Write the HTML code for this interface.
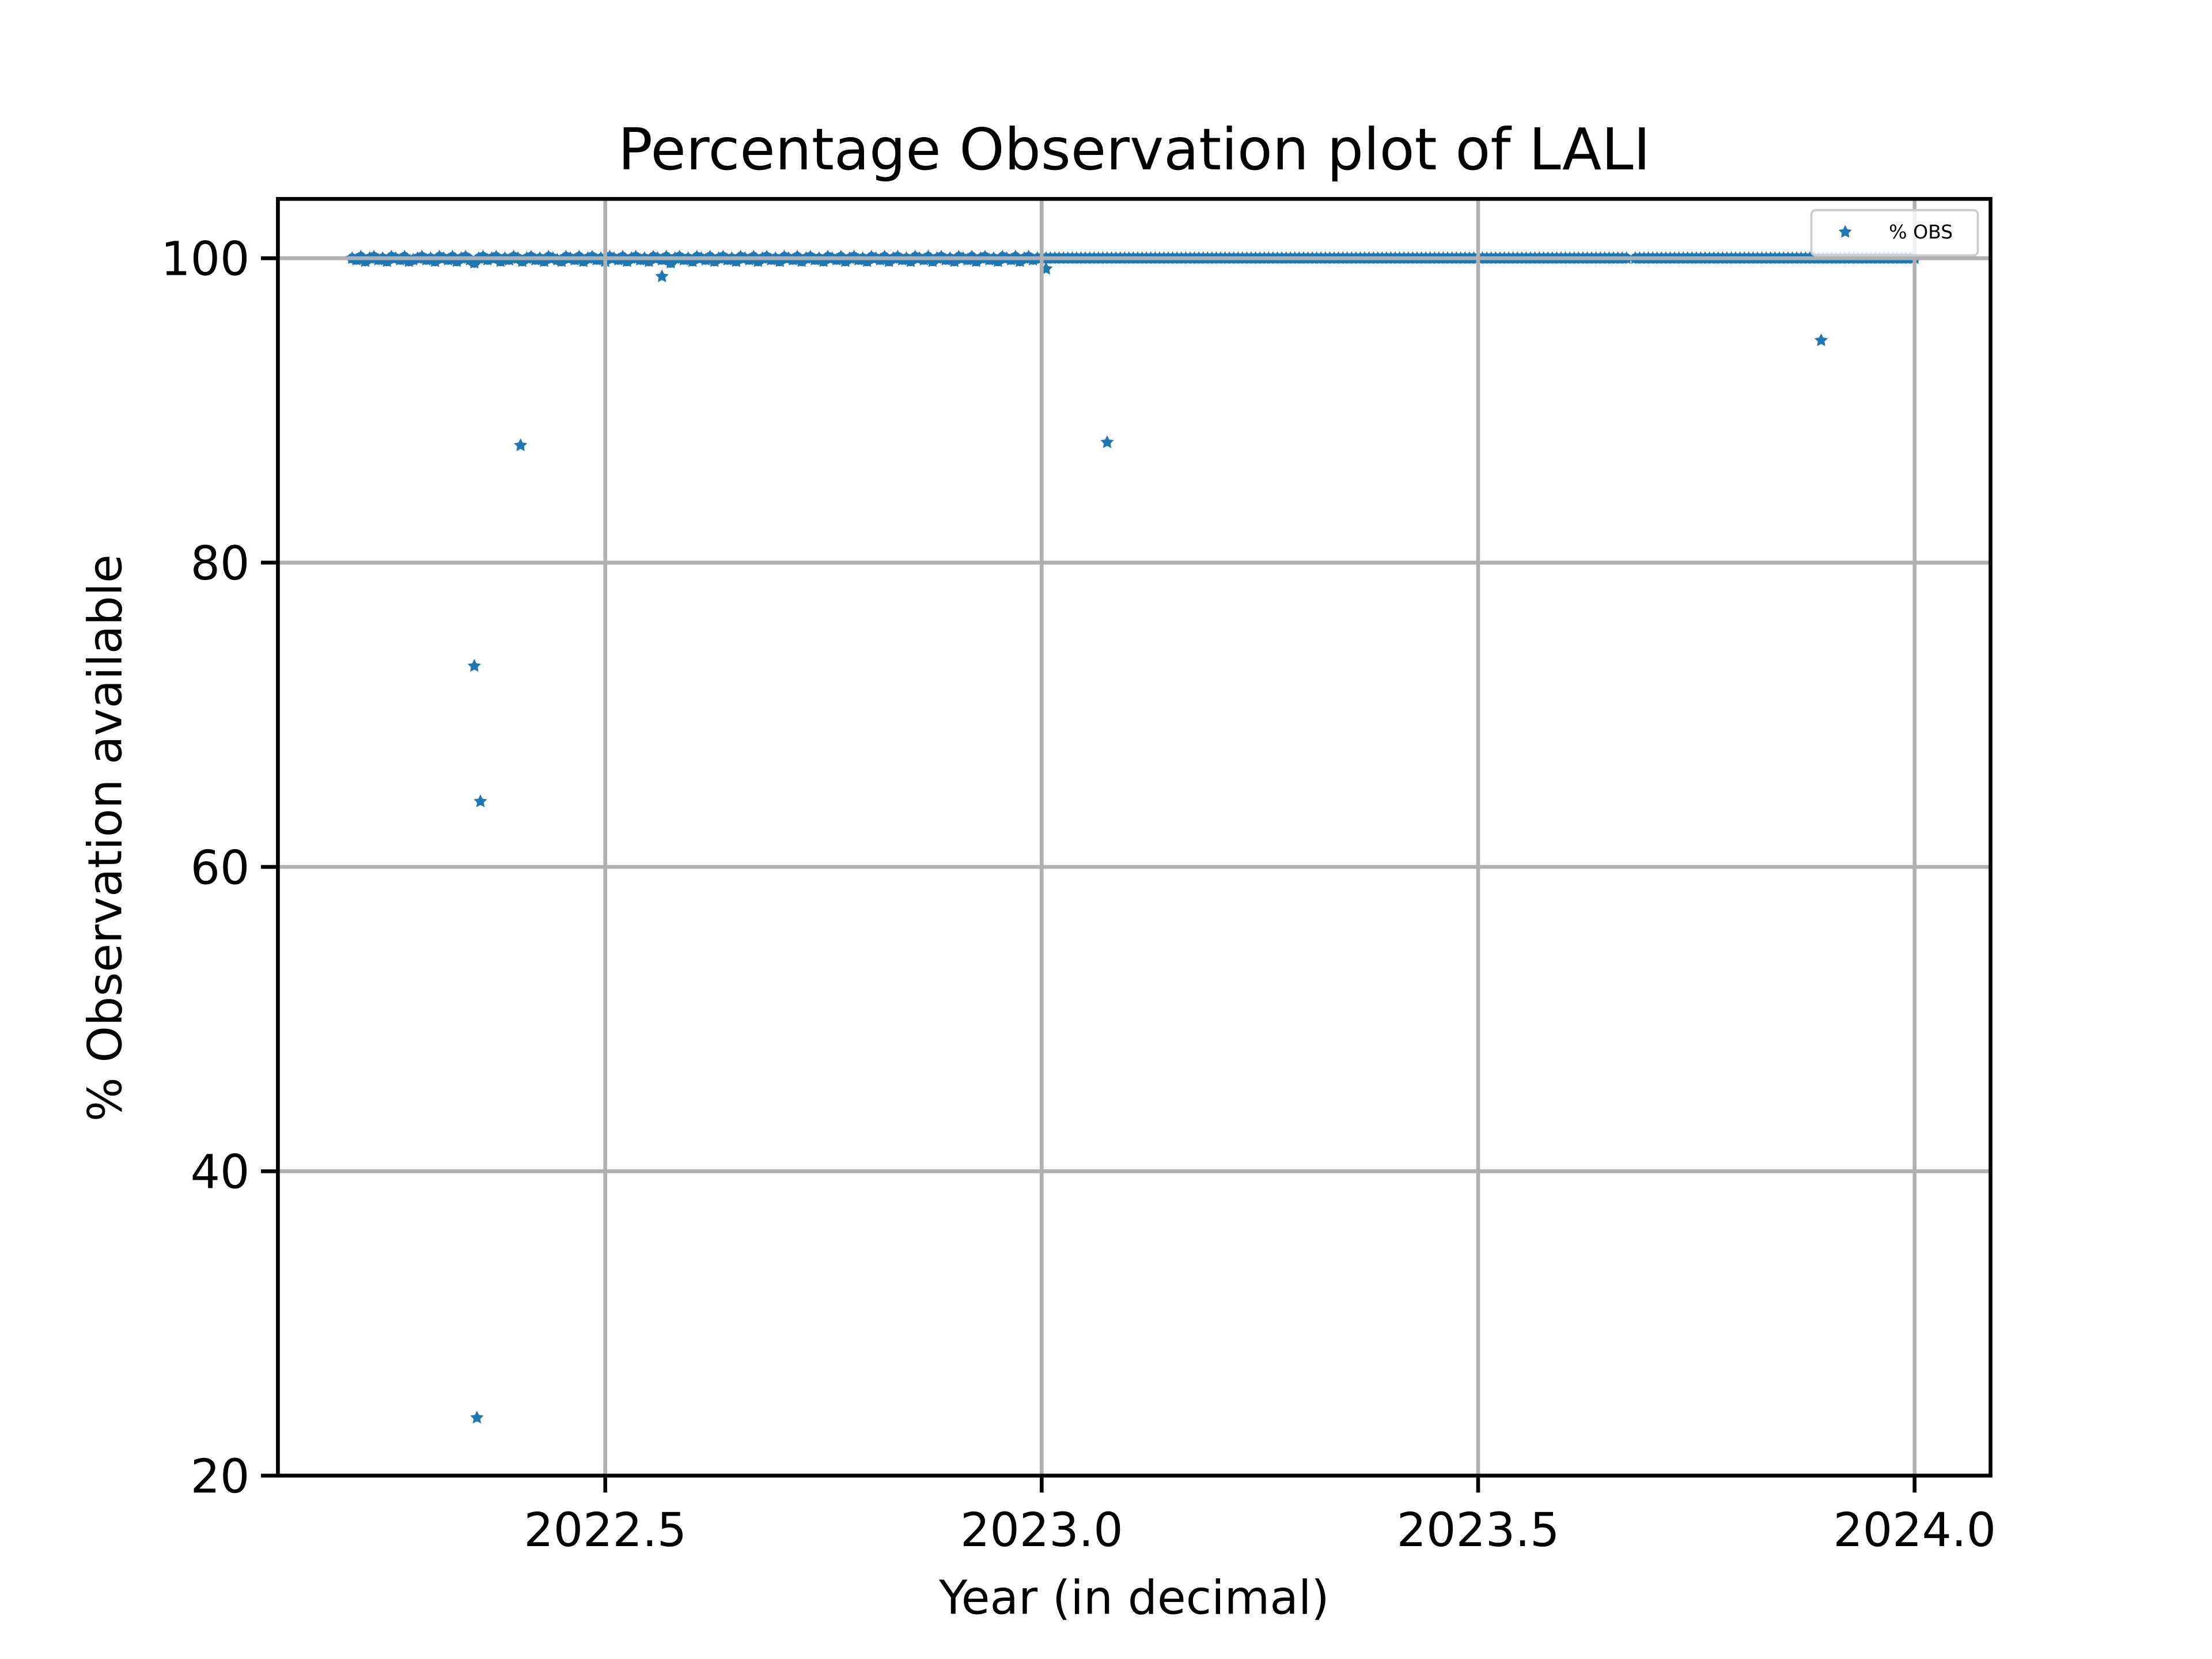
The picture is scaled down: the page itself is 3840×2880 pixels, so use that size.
<!DOCTYPE html>
<html><head><meta charset="utf-8"><style>
html,body{margin:0;padding:0;background:#fff;}
svg{display:block;}
text{font-family:"DejaVu Sans","Liberation Sans",sans-serif;fill:#000;}
</style></head><body>
<svg id="chart" width="3840" height="2880" viewBox="0 0 1568 1176" xmlns="http://www.w3.org/2000/svg">
<rect x="0" y="0" width="1568" height="1176" fill="#fff"/>
<g id="dense"></g>
<g id="outliers"></g>
<g id="grid"></g>
<rect x="197" y="141" width="1214" height="905" fill="none" stroke="#000" stroke-width="2.7"/>
<g id="ticks"></g>
<text x="804" y="120" font-size="40.7" text-anchor="middle">Percentage Observation plot of LALI</text>
<text x="804" y="1144" font-size="33" text-anchor="middle">Year (in decimal)</text>
<text x="0" y="0" font-size="33" text-anchor="middle" transform="translate(86,594) rotate(-90)">% Observation available</text>
<g>
<rect x="1284" y="149" width="118" height="32" rx="3" fill="#fff" fill-opacity="0.8" stroke="#ccc" stroke-width="1.5"/>
<polygon id="legmark" fill="#1f77b4"/>
<text x="1339" y="169" font-size="13.5">% OBS</text>
</g>
</svg>
<script>
const xTicks=[2022.5,2023.0,2023.5,2024.0];
const xTickLabels=["2022.5","2023.0","2023.5","2024.0"];
const yTicks=[20,40,60,80,100];
const yTickLabels=["20","40","60","80","100"];
const outlierYears=[2022.35,2022.357,2022.353,2022.403,2022.565,2023.005,2023.075,2023.893];
const outlierValues=[73.2,64.3,23.8,87.7,98.8,99.3,87.9,94.6];
const denseStart=2022.21, denseStep=0.005;
const denseValues=[
100,99.9,100.1,99.8,100,100.1,99.9,100,99.8,100.1,100,99.9,100.1,99.8,99.9,100,100.1,99.9,100,99.8,
100.1,100,99.9,100.1,99.8,100,100.1,99.9,99.7,100,100.1,99.9,100,100.1,99.8,100,99.9,100.1,100,99.8,
100,100.1,99.9,100,99.8,100.1,100,99.9,99.8,100.1,100,99.9,100.1,99.8,100,100.1,99.9,100,99.8,100.1,
100,99.9,100.1,99.8,100,100.1,99.9,100,99.8,100.1,100,99.9,100.1,99.7,100,100.1,99.9,100,99.8,100.1,
100,99.9,100.1,99.8,100,100.1,99.9,100,99.8,100.1,100,99.9,100.1,99.8,100,100.1,99.9,100,99.8,100.1,
100,99.9,100.1,99.8,100,100.1,99.9,100,99.8,100.1,100,99.9,100.1,99.8,100,100.1,99.9,100,99.8,100.1,
100,99.9,100.1,99.8,100,100.1,99.9,100,99.8,100.1,100,99.9,100.1,99.8,100,100.1,99.9,100,99.8,100.1,
100,99.9,100.1,99.8,100,100.1,99.9,100,99.8,100.1,100,99.9,100.1,99.8,100,100.1,99.9,100,100,100,
100,100,100,100,100,100,100,100,100,100,100,100,100,100,100,100,100,100,100,100,
100,100,100,100,100,100,100,100,100,100,100,100,100,100,100,100,100,100,100,100,
100,100,100,100,100,100,100,100,100,100,100,100,100,100,100,100,100,100,100,100,
100,100,100,100,100,100,100,100,100,100,100,100,100,100,100,100,100,100,100,100,
100,100,100,100,100,100,100,100,100,100,100,100,100,100,100,100,100,100,100,100,
100,100,100,100,100,100,100,100,100,100,100,100,100,100,100,100,100,100,100,100,
100,100,100,100,100,100,100,100,100,100,100,100,100,null,100,100,100,100,100,100,
100,100,100,100,100,100,100,100,100,100,100,100,100,100,100,100,100,100,100,100,
100,100,100,100,100,100,100,100,100,100,100,100,100,100,100,100,100,100,100,100,
100,100,100,100,100,100,100,100,100,100,100,100,100,100,100,100,100,100,100,100];
const NS="http://www.w3.org/2000/svg";
const X0=2022.125,X1=2024.087,Y0=20,Y1=103.9;
const L=197,R=1411,T=141,B=1046;
function sx(v){return L+(v-X0)/(X1-X0)*(R-L);}
function sy(v){return B-(v-Y0)/(Y1-Y0)*(B-T);}
function star(cx,cy,r){let p=[];for(let i=0;i<10;i++){const a=-Math.PI/2+i*Math.PI/5;const rr=i%2?r*0.5:r;p.push((cx+rr*Math.cos(a)).toFixed(2)+","+(cy+rr*Math.sin(a)).toFixed(2));}return p.join(" ");}
function mk(tag,attrs,parent){const e=document.createElementNS(NS,tag);for(const k in attrs)e.setAttribute(k,attrs[k]);parent.appendChild(e);return e;}
const dense=document.getElementById('dense');
let seg=[];
function flush(){
  if(seg.length>1){
    const pl=mk('polyline',{points:seg.join(' '),fill:'none',stroke:'#1f77b4','stroke-width':7,'stroke-linejoin':'round','stroke-linecap':'round'},dense);
    
    
  }
  seg=[];
}
for(let i=0;i<denseValues.length;i++){
  const v=denseValues[i];
  const yr=denseStart+i*denseStep;if(yr>2024.0001)break;
  if(v===null){flush();continue;}
  seg.push(sx(yr).toFixed(2)+','+sy(v).toFixed(2));
}
flush();
for(let i=0;i<denseValues.length;i++){
  const v=denseValues[i];if(v===null)continue;
  const yr=denseStart+i*denseStep;if(yr>2024.0001)break;
  const p=mk('polygon',{points:star(sx(yr),sy(v),5),fill:'#1f77b4'},dense);
  
  
}
const out=document.getElementById('outliers');
for(let i=0;i<outlierYears.length;i++){
  const p=mk('polygon',{points:star(sx(outlierYears[i]),sy(outlierValues[i]),5),fill:'#1f77b4'},out);
  
  
}
const grid=document.getElementById('grid'),ticks=document.getElementById('ticks');
xTicks.forEach((t,i)=>{
  const x=sx(t);
  const g=mk('line',{x1:x,x2:x,y1:T,y2:B,stroke:'#b0b0b0','stroke-width':2.7},grid);
  
  
  const tk=mk('line',{x1:x,x2:x,y1:B,y2:B+12,stroke:'#000','stroke-width':2.7},ticks);
  
  
  const tx=mk('text',{x:x,y:B+50,'font-size':33,'text-anchor':'middle'},ticks);
  tx.textContent=xTickLabels[i];
  
  
});
yTicks.forEach((t,i)=>{
  const y=sy(t);
  const g=mk('line',{x1:L,x2:R,y1:y,y2:y,stroke:'#b0b0b0','stroke-width':2.7},grid);
  
  
  const tk=mk('line',{x1:L-12,x2:L,y1:y,y2:y,stroke:'#000','stroke-width':2.7},ticks);
  
  
  const tx=mk('text',{x:L-20,y:y+12,'font-size':33,'text-anchor':'end'},ticks);
  tx.textContent=yTickLabels[i];
  
  
});
document.getElementById('legmark').setAttribute('points',star(1308,164.5,5));
</script>
</body></html>
